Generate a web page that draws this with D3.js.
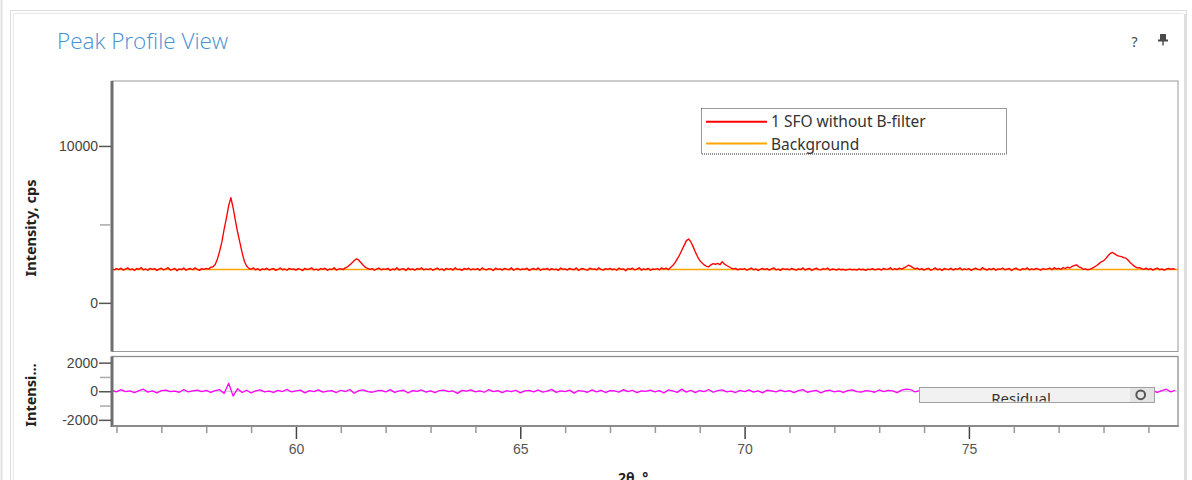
<!DOCTYPE html>
<html><head><meta charset="utf-8">
<script src="https://cdn.jsdelivr.net/npm/d3@7"></script>
<style>body{margin:0;background:#fff;overflow:hidden}svg{display:block}</style>
</head><body><svg id="c" width="1192" height="480"></svg>
<script>
// ---- data ----
const title = "Peak Profile View";
const seriesName = "1 SFO without B-filter";
const backgroundName = "Background";
const residualName = "Residual";
const angleStart = 55.9, angleStep = 0.05;
const intensity = [2160,2100,
2180,2120,2210,2090,2150,2230,2110,2170,2060,2190,2140,2250,2100,2160,2080,2200,2130,2180,2070,2150,
2210,2100,2160,2240,2090,2140,2190,2050,2170,2120,2220,2080,2160,2190,2110,2230,2140,2070,2180,2130,
2200,2150,2260,2300,2450,2800,3300,3900,4700,5400,6200,6700,6050,5250,4500,3850,3200,2650,2350,2200,
2140,2230,2100,2180,2060,2170,2120,2210,2090,2150,2190,2070,2140,2220,2110,2160,2080,2200,2130,2170,
2090,2180,2140,2060,2200,2120,2170,2230,2100,2150,2080,2190,2130,2210,2070,2160,2120,2240,2090,2150,
2180,2120,2230,2300,2420,2550,2700,2800,2720,2560,2400,2260,2200,2130,2190,2080,2160,2220,2110,2170,
2130,2200,2070,2160,2110,2240,2090,2150,2180,2060,2210,2120,2170,2080,2190,2140,2230,2100,2160,2120,
2190,2080,2150,2220,2110,2170,2060,2200,2130,2180,2090,2240,2120,2150,2070,2190,2140,2210,2100,2160,
2120,2190,2070,2230,2140,2100,2180,2150,2060,2210,2130,2170,2090,2200,2150,2110,2240,2080,2160,2190,
2100,2170,2130,2210,2060,2150,2190,2110,2230,2080,2160,2140,2200,2090,2180,2120,2150,2070,2220,2130,
2170,2090,2200,2140,2110,2230,2060,2160,2190,2120,2080,2210,2150,2170,2100,2240,2130,2090,2180,2140,
2200,2110,2160,2080,2220,2140,2170,2050,2190,2130,2210,2100,2150,2240,2090,2170,2120,2200,2080,2160,
2130,2190,2100,2230,2150,2210,2120,2250,2380,2560,2800,3050,3350,3650,3950,4070,3900,3600,3250,2950,
2700,2550,2420,2330,2300,2420,2500,2460,2520,2430,2620,2480,2380,2300,2220,2160,2200,2100,2170,2130,
2190,2080,2150,2220,2110,2170,2060,2140,2200,2120,2180,2090,2160,2230,2100,2150,2070,2190,2130,2170,
2110,2200,2140,2080,2170,2120,2230,2090,2160,2190,2060,2150,2210,2120,2100,2180,2140,2220,2080,2160,
2130,2090,2170,2110,2140,2080,2120,2150,2100,2130,2090,2160,2110,2140,2070,2150,2120,2180,2100,2140,
2170,2090,2200,2130,2150,2240,2110,2180,2120,2210,2150,2230,2300,2400,2340,2250,2170,2220,2120,2180,
2090,2160,2200,2080,2140,2230,2110,2170,2060,2190,2150,2120,2210,2090,2180,2140,2230,2100,2160,2120,
2190,2070,2150,2210,2130,2100,2240,2160,2090,2180,2120,2200,2080,2170,2140,2220,2110,2150,2190,2060,
2160,2210,2120,2090,2180,2140,2230,2100,2170,2120,2200,2150,2080,2190,2130,2170,2220,2110,2240,2160,
2200,2130,2250,2190,2280,2220,2330,2380,2420,2300,2240,2130,2170,2100,2150,2210,2290,2380,2500,2620,
2680,2820,3000,3150,3210,3120,3020,2980,2950,2880,2850,2720,2560,2420,2310,2230,2250,2180,2140,2210,
2120,2180,2090,2160,2220,2110,2170,2080,2150,2200,2130,2180,2140];
const backgroundAngles = [55.9, 79.66];
const backgroundValues = [2130, 2130];
const residualStart = 55.9, residualStep = 0.1;
const residual = [
60,-40,110,-20,30,-90,50,140,-60,20,
-110,40,80,-30,10,-70,120,-50,30,70,
-20,60,-80,40,110,-150,560,-340,180,-90,
70,-120,30,90,-40,10,-80,60,-20,130,
-50,20,80,-110,40,-30,100,-60,10,50,
-90,70,-30,120,-140,40,90,-20,-70,30,
60,-50,110,-80,20,70,-120,40,-10,90,
-60,30,-100,50,80,-30,20,-150,60,10,
100,-40,30,-70,120,-20,50,-90,40,-30,
70,-110,20,60,-40,90,-60,10,130,-80,
30,-20,80,-130,50,10,-70,100,-40,60,
-90,40,20,-60,110,-30,70,-100,30,-10,
80,-50,40,-120,90,20,-80,150,-60,70,
-100,50,-30,120,-70,40,90,-40,10,-90,
60,-20,100,-60,30,-110,70,20,-40,80,
-30,50,-90,40,110,-70,10,60,-120,30,
70,-40,20,-80,50,100,-30,-60,40,10,
-70,90,-20,60,30,-100,80,150,120,-50,
40,-80,60,-30,110,-60,20,70,-40,30,
-90,50,10,-70,100,-20,60,-110,40,80,
-50,30,-100,70,20,-40,120,-80,50,-10,
60,-70,90,-30,40,110,-60,20,-90,50,
80,-40,130,-100,60,20,-70,90,-30,40,
-60,100,30,-80,50,140,-40,70];
const mainTicks = [0, 10000];
const mainMinorTicks = [5000];
const resTicks = [-2000, 0, 2000];
const resMinorTicks = [-1000, 1000];
const xMajorTicks = [60, 65, 70, 75];
const xMinorTicks = [56,57,58,59,61,62,63,64,66,67,68,69,71,72,73,74,76,77,78,79];
const xLabel = "2θ, °";
const yLabel = "Intensity, cps";
const yResLabel = "Intensi...";

// ---- chart ----
const svg = d3.select("#c");
const L = 112, R = 1178, T1 = 81, B1 = 351.5, T2 = 356.5, B2 = 426;
const x = d3.scaleLinear().domain([55.9, 79.66]).range([L, R]);
const yTop = d3.scaleLinear().domain([-3100, 14140]).range([B1, T1]);
const yRes = d3.scaleLinear().domain([-2430, 2430]).range([B2, T2]);

// page frame
svg.append("line").attr("x1",1.5).attr("x2",1.5).attr("y1",0).attr("y2",480).attr("stroke","#e2e2e2").attr("stroke-width",2);
svg.append("rect").attr("x",10.5).attr("y",10.5).attr("width",1176).attr("height",480).attr("fill","none").attr("stroke","#dedede");
svg.append("path").attr("d","M13.5,480V13.5H1183.5").attr("fill","none").attr("stroke","#e8e8e8");
svg.append("line").attr("x1",1185).attr("x2",1185).attr("y1",14).attr("y2",480).attr("stroke","#e0e0e0").attr("stroke-width",2);

svg.append("text").attr("x",57).attr("y",48.5).text(title)
  .attr("font-family","'Open Sans', 'Noto Sans', sans-serif").attr("font-weight",300)
  .attr("font-size",22.5).attr("fill","#4690d4");
svg.append("text").attr("x",1131.5).attr("y",46.5).text("?")
  .attr("font-family","'Noto Sans', sans-serif").attr("font-size",14).attr("fill","#444");
// pin icon
const pin = svg.append("g").attr("fill","#4a4a4a");
pin.append("rect").attr("x",1160).attr("y",34).attr("width",6).attr("height",6);
pin.append("rect").attr("x",1158).attr("y",39.5).attr("width",10).attr("height",2);
pin.append("rect").attr("x",1162.3).attr("y",41).attr("width",1.4).attr("height",4.5);

// clip paths
const defs = svg.append("defs");
defs.append("clipPath").attr("id","cTop").append("rect").attr("x",L+1).attr("y",T1).attr("width",R-L-1).attr("height",B1-T1);
defs.append("clipPath").attr("id","cRes").append("rect").attr("x",L+1).attr("y",T2).attr("width",R-L-1).attr("height",B2-T2);
defs.append("clipPath").attr("id","cDrop").append("rect").attr("x",920).attr("y",388).attr("width",234).attr("height",13.5);

// panels
svg.append("rect").attr("x",L).attr("y",T1).attr("width",R-L).attr("height",B1-T1).attr("fill","#fff").attr("stroke","#9a9a9a");
svg.append("rect").attr("x",L).attr("y",T2).attr("width",R-L).attr("height",B2-T2).attr("fill","#fff").attr("stroke","#8e8e8e").attr("stroke-width",1.3);

// lines
const mainPts = intensity.map((v,i)=>[angleStart+i*angleStep, v]);
const bgPts = backgroundAngles.map((a,i)=>[a, backgroundValues[i]]);
const resPts = residual.map((v,i)=>[residualStart+i*residualStep, v]);
const lineTop = d3.line().x(d=>x(d[0])).y(d=>yTop(d[1]));
const lineRes = d3.line().x(d=>x(d[0])).y(d=>yRes(d[1]));

const gTop = svg.append("g").attr("clip-path","url(#cTop)");
gTop.append("path").attr("d",lineTop(bgPts)).attr("fill","none").attr("stroke","#ffa500").attr("stroke-width",1.6);
gTop.append("path").attr("d",lineTop(mainPts)).attr("fill","none").attr("stroke","#ff0000").attr("stroke-width",1.35).attr("stroke-linejoin","round");

const gRes = svg.append("g").attr("clip-path","url(#cRes)");
gRes.append("line").attr("x1",L).attr("x2",R).attr("y1",yRes(0)).attr("y2",yRes(0)).attr("stroke","#c8c8c8");
gRes.append("path").attr("d",lineRes(resPts)).attr("fill","none").attr("stroke","#ff00ff").attr("stroke-width",1.3).attr("stroke-linejoin","round");

// thick left axes & bottom axis line
svg.append("line").attr("x1",L).attr("x2",L).attr("y1",T1).attr("y2",B1).attr("stroke","#6e6e6e").attr("stroke-width",3);
svg.append("line").attr("x1",L).attr("x2",L).attr("y1",T2).attr("y2",B2+1).attr("stroke","#6e6e6e").attr("stroke-width",3);
svg.append("line").attr("x1",L).attr("x2",R+0.7).attr("y1",B2).attr("y2",B2).attr("stroke","#8a8a8a").attr("stroke-width",2);

function styleAxis(g, col, tcol){
  g.select(".domain").remove();
  g.selectAll(".tick line").attr("stroke",col).attr("stroke-width",1.5);
  g.selectAll(".tick text").attr("fill",tcol).attr("font-size",14)
   .attr("font-family","'Liberation Sans', Arial, sans-serif");
}
const fmt = d => String(d);
styleAxis(svg.append("g").attr("transform",`translate(${L-1},0)`)
  .call(d3.axisLeft(yTop).tickValues(mainTicks).tickSize(12).tickPadding(1).tickFormat(fmt)), "#555", "#444");
styleAxis(svg.append("g").attr("transform",`translate(${L-1},0)`)
  .call(d3.axisLeft(yTop).tickValues(mainMinorTicks).tickSize(11).tickFormat("")), "#aaa", "#444");
styleAxis(svg.append("g").attr("transform",`translate(${L-1},0)`)
  .call(d3.axisLeft(yRes).tickValues(resTicks).tickSize(12).tickPadding(1).tickFormat(fmt)), "#555", "#444");
styleAxis(svg.append("g").attr("transform",`translate(${L-1},0)`)
  .call(d3.axisLeft(yRes).tickValues(resMinorTicks).tickSize(11).tickFormat("")), "#aaa", "#444");
styleAxis(svg.append("g").attr("transform",`translate(0,${B2+1})`)
  .call(d3.axisBottom(x).tickValues(xMajorTicks).tickSize(12).tickPadding(5).tickFormat(fmt)), "#444", "#555");
styleAxis(svg.append("g").attr("transform",`translate(0,${B2+1})`)
  .call(d3.axisBottom(x).tickValues(xMinorTicks).tickSize(6).tickFormat("")), "#999", "#555");

// axis titles
svg.append("text").attr("transform","translate(36,228) rotate(-90)").attr("text-anchor","middle")
  .attr("font-family","'Noto Sans', sans-serif").attr("font-weight","bold").attr("font-size",14.5).attr("fill","#222").text(yLabel);
svg.append("text").attr("transform","translate(36,395) rotate(-90)").attr("text-anchor","middle")
  .attr("font-family","'Noto Sans', sans-serif").attr("font-weight","bold").attr("font-size",14.5).attr("fill","#222").text(yResLabel);
svg.append("text").attr("x",618).attr("y",482.5)
  .attr("font-family","'Noto Sans', sans-serif").attr("font-weight","bold").attr("font-size",14).attr("fill","#222").text(xLabel);

// legend
const lg = svg.append("g");
lg.append("rect").attr("x",701.5).attr("y",108.5).attr("width",305).attr("height",45.5)
  .attr("fill","#fff").attr("stroke","#333").attr("stroke-dasharray","1,1");
const legendItems = [[seriesName,"#ff0000",121.7,127.3],[backgroundName,"#ffa500",143.5,149.5]];
legendItems.forEach(([name,col,ly,ty])=>{
  lg.append("line").attr("x1",706).attr("x2",767).attr("y1",ly).attr("y2",ly).attr("stroke",col).attr("stroke-width",2);
  lg.append("text").attr("x",771).attr("y",ty).text(name)
    .attr("font-family","'Noto Sans', sans-serif").attr("font-size",15.5).attr("fill","#333");
});

// residual dropdown
const dd = svg.append("g");
dd.append("rect").attr("x",919.5).attr("y",387.5).attr("width",235).attr("height",15).attr("fill","#f1f1f1").attr("stroke","#a0a0a0");
dd.append("rect").attr("x",1130).attr("y",388).attr("width",24).attr("height",14).attr("fill","#e4e4e4");
dd.append("path").attr("d",d3.symbol().type(d3.symbolCircle).size(60)()).attr("transform","translate(1140.7,394.8)")
  .attr("fill","none").attr("stroke","#555").attr("stroke-width",2);
dd.append("g").attr("clip-path","url(#cDrop)").append("text").attr("x",1021).attr("y",404).attr("text-anchor","middle")
  .attr("font-family","'Noto Sans', sans-serif").attr("font-size",15).attr("fill","#333").text(residualName);
</script></body></html>
